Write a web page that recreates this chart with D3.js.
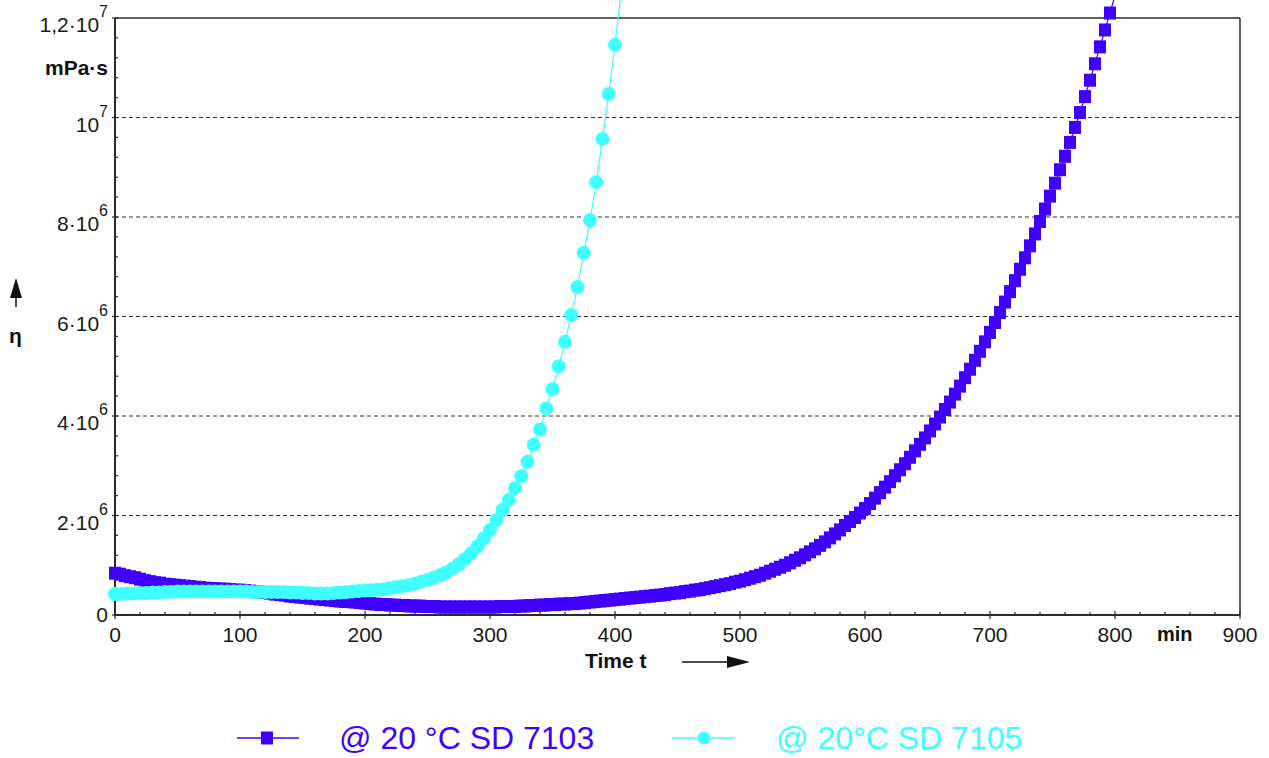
<!DOCTYPE html>
<html>
<head>
<meta charset="utf-8">
<script src="https://cdn.jsdelivr.net/npm/d3@7"></script>
<style>
  body { margin: 0; background: #fff; }
  text { font-family: Arial, "Liberation Sans", sans-serif; }
</style>
</head>
<body>
<div id="chart"></div>
<script>
// viscosity (in 10^6 mPa·s) against time (min)

// SD 7103 at 20 °C, one reading every 4 min (last one runs off the top)
var blueTimes = d3.range(0, 801, 4);
var blueVals = [
  0.84,0.82,0.79,0.77,0.75,0.72,0.69,0.67,0.65,0.64,
  0.62,0.61,0.60,0.59,0.58,0.57,0.56,0.55,0.54,0.53,
  0.53,0.52,0.52,0.51,0.50,0.50,0.49,0.48,0.47,0.46,
  0.45,0.44,0.42,0.41,0.40,0.38,0.37,0.36,0.35,0.34,
  0.33,0.32,0.31,0.30,0.29,0.28,0.27,0.27,0.26,0.25,
  0.24,0.23,0.22,0.21,0.21,0.20,0.20,0.19,0.19,0.18,
  0.18,0.18,0.17,0.17,0.17,0.16,0.16,0.16,0.16,0.16,
  0.16,0.16,0.16,0.16,0.16,0.16,0.16,0.17,0.17,0.17,
  0.17,0.18,0.18,0.19,0.19,0.20,0.20,0.21,0.21,0.22,
  0.22,0.23,0.23,0.24,0.25,0.26,0.27,0.28,0.29,0.30,
  0.31,0.32,0.33,0.34,0.35,0.36,0.37,0.38,0.39,0.40,
  0.41,0.43,0.44,0.45,0.47,0.48,0.50,0.51,0.53,0.55,
  0.57,0.59,0.61,0.63,0.66,0.68,0.71,0.74,0.77,0.80,
  0.84,0.88,0.92,0.96,1.00,1.05,1.10,1.15,1.21,1.27,
  1.33,1.40,1.47,1.55,1.63,1.71,1.80,1.88,1.96,2.05,
  2.14,2.24,2.35,2.46,2.57,2.68,2.80,2.92,3.04,3.17,
  3.30,3.43,3.56,3.70,3.84,3.98,4.13,4.28,4.44,4.60,
  4.77,4.94,5.12,5.30,5.49,5.68,5.88,6.08,6.29,6.50,
  6.72,6.95,7.18,7.42,7.66,7.91,8.16,8.42,8.68,8.95,
  9.22,9.50,9.80,10.10,10.42,10.75,11.08,11.42,11.76,12.10,
  12.45
];

// SD 7105 at 20 °C, one reading every 5 min
var cyanTimes = d3.range(0, 406, 5);
var cyanVals = [
  0.42,0.42,0.43,0.43,0.44,0.44,0.45,0.45,0.46,0.46,
  0.47,0.47,0.47,0.47,0.47,0.47,0.47,0.47,0.47,0.47,
  0.47,0.47,0.46,0.46,0.46,0.46,0.46,0.46,0.45,0.45,
  0.44,0.44,0.43,0.43,0.43,0.44,0.45,0.46,0.47,0.48,
  0.49,0.50,0.51,0.52,0.54,0.56,0.58,0.60,0.63,0.67,
  0.71,0.75,0.80,0.86,0.93,1.02,1.12,1.24,1.38,1.54,
  1.71,1.91,2.11,2.31,2.55,2.79,3.08,3.42,3.73,4.15,
  4.54,5.00,5.49,6.03,6.59,7.28,7.94,8.70,9.57,10.47,
  11.46,12.55
];

var seriesNames = ["@ 20 °C SD 7103", "@ 20°C SD 7105"];
var seriesColors = ["#4000ff", "#40ffff"];

var xMajor = d3.range(0, 901, 100);
var yMajor = [0, 2, 4, 6, 8, 10, 12];
var yTickBase = ["0", "2·10", "4·10", "6·10", "8·10", "10", "1,2·10"];
var yTickExp = ["", "6", "6", "6", "6", "7", "7"];

var width = 1269, height = 758;
var margin = {top: 18, right: 29, bottom: 143, left: 115};

var svg = d3.select("#chart")
  .append("svg")
    .attr("width", width)
    .attr("height", height);

var x = d3.scaleLinear()
  .domain([0, 900])
  .range([margin.left, width - margin.right]);

var y = d3.scaleLinear()
  .domain([0, 12])
  .range([height - margin.bottom, margin.top]);

var x0 = x(0), x1 = x(900), yb = y(0), yt = y(12);
var axisColor = "#2b2b2b";

// dashed grid
svg.selectAll(".grid")
  .data([2, 4, 6, 8, 10])
  .enter().append("line")
    .attr("x1", x0).attr("x2", x1)
    .attr("y1", function(d) { return y(d); })
    .attr("y2", function(d) { return y(d); })
    .attr("stroke", "#333")
    .attr("stroke-width", 1)
    .attr("stroke-dasharray", "4,3");

// frame: top and right
svg.append("line").attr("x1", x0).attr("x2", x1).attr("y1", yt).attr("y2", yt)
  .attr("stroke", axisColor).attr("stroke-width", 1.5);
svg.append("line").attr("x1", x1).attr("x2", x1).attr("y1", yt).attr("y2", yb)
  .attr("stroke", axisColor).attr("stroke-width", 1.5);

// axes
svg.append("line").attr("x1", x0).attr("x2", x1).attr("y1", yb).attr("y2", yb)
  .attr("stroke", axisColor).attr("stroke-width", 2);
svg.append("line").attr("x1", x0).attr("x2", x0).attr("y1", yt).attr("y2", yb)
  .attr("stroke", axisColor).attr("stroke-width", 2);

// x ticks
var xMinor = d3.range(0, 901, 20).filter(function(d) { return d % 100 !== 0; });
svg.selectAll(".xminor")
  .data(xMinor)
  .enter().append("line")
    .attr("x1", function(d) { return x(d); })
    .attr("x2", function(d) { return x(d); })
    .attr("y1", yb - 3).attr("y2", yb)
    .attr("stroke", axisColor).attr("stroke-width", 1.2);
svg.selectAll(".xmajor")
  .data(xMajor)
  .enter().append("line")
    .attr("x1", function(d) { return x(d); })
    .attr("x2", function(d) { return x(d); })
    .attr("y1", yb - 4).attr("y2", yb + 4)
    .attr("stroke", axisColor).attr("stroke-width", 1.2);
svg.selectAll(".xlabel")
  .data(xMajor)
  .enter().append("text")
    .attr("x", function(d) { return x(d); })
    .attr("y", 642)
    .attr("text-anchor", "middle")
    .attr("font-size", 21)
    .attr("fill", "#1a1a1a")
    .text(function(d) { return d; });

// y ticks
var yMinor = d3.range(0, 12.01, 0.4).filter(function(d) { return Math.abs(d / 2 - Math.round(d / 2)) > 0.01; });
svg.selectAll(".yminor")
  .data(yMinor)
  .enter().append("line")
    .attr("x1", x0).attr("x2", x0 + 3)
    .attr("y1", function(d) { return y(d); })
    .attr("y2", function(d) { return y(d); })
    .attr("stroke", axisColor).attr("stroke-width", 1.2);
svg.selectAll(".ymajor")
  .data(yMajor)
  .enter().append("line")
    .attr("x1", x0 - 3).attr("x2", x0 + 3)
    .attr("y1", function(d) { return y(d); })
    .attr("y2", function(d) { return y(d); })
    .attr("stroke", axisColor).attr("stroke-width", 1.2);

var ylab = svg.selectAll(".ylabel")
  .data(yMajor)
  .enter().append("text")
    .attr("x", 108)
    .attr("y", function(d, i) { return y(d) + (yTickExp[i] ? 14 : 7); })
    .attr("text-anchor", "end")
    .attr("font-size", 21)
    .attr("fill", "#1a1a1a");
ylab.append("tspan").text(function(d, i) { return yTickBase[i]; });
ylab.append("tspan")
  .attr("dy", -15)
  .attr("font-size", 16)
  .text(function(d, i) { return yTickExp[i]; });

// axis titles
svg.append("text").attr("x", 108).attr("y", 75).attr("text-anchor", "end")
  .attr("font-size", 21).attr("font-weight", "bold").attr("fill", "#111").text("mPa·s");
svg.append("text").attr("x", 9).attr("y", 343)
  .attr("font-size", 21).attr("font-weight", "bold").attr("fill", "#111").text("η");
svg.append("line").attr("x1", 16).attr("x2", 16).attr("y1", 307).attr("y2", 294)
  .attr("stroke", "#111").attr("stroke-width", 1.5);
svg.append("path").attr("d", "M16,278 L22,298 L10,298 Z").attr("fill", "#111");

svg.append("text").attr("x", 585).attr("y", 668)
  .attr("font-size", 21).attr("font-weight", "bold").attr("fill", "#111").text("Time t");
svg.append("line").attr("x1", 682).attr("x2", 732).attr("y1", 662).attr("y2", 662)
  .attr("stroke", "#111").attr("stroke-width", 1.5);
svg.append("path").attr("d", "M750,662 L727,656 L727,668 Z").attr("fill", "#111");

svg.append("text").attr("x", 1157).attr("y", 641)
  .attr("font-size", 20).attr("font-weight", "bold").attr("fill", "#111").text("min");

// series
var blueData = blueTimes.map(function(t, i) { return {t: t, v: blueVals[i]}; });
var cyanData = cyanTimes.map(function(t, i) { return {t: t, v: cyanVals[i]}; });

var line = d3.line()
  .x(function(d) { return x(d.t); })
  .y(function(d) { return y(d.v); });

function shown(d) { return d.v <= 12.2; }

svg.append("path")
  .datum(blueData)
  .attr("d", line)
  .attr("fill", "none")
  .attr("stroke", seriesColors[0])
  .attr("stroke-width", 1.2);
svg.selectAll(".sq")
  .data(blueData.filter(shown))
  .enter().append("rect")
    .attr("x", function(d) { return x(d.t) - 6; })
    .attr("y", function(d) { return y(d.v) - 6.5; })
    .attr("width", 12)
    .attr("height", 13)
    .attr("fill", seriesColors[0]);

svg.append("path")
  .datum(cyanData)
  .attr("d", line)
  .attr("fill", "none")
  .attr("stroke", seriesColors[1])
  .attr("stroke-width", 1.2);
svg.selectAll(".dot")
  .data(cyanData.filter(shown))
  .enter().append("circle")
    .attr("cx", function(d) { return x(d.t); })
    .attr("cy", function(d) { return y(d.v); })
    .attr("r", 7)
    .attr("fill", seriesColors[1]);

// legend
var legendX = [237, 672];
var lg = svg.selectAll(".legend")
  .data(seriesNames)
  .enter().append("g")
    .attr("transform", function(d, i) { return "translate(" + legendX[i] + ",738)"; });
lg.append("line")
  .attr("x1", 0).attr("x2", 62)
  .attr("stroke", function(d, i) { return seriesColors[i]; })
  .attr("stroke-width", 1.5);
lg.filter(function(d, i) { return i === 0; }).append("rect")
  .attr("x", 24).attr("y", -6.5).attr("width", 12).attr("height", 13)
  .attr("fill", seriesColors[0]);
lg.filter(function(d, i) { return i === 1; }).append("circle")
  .attr("cx", 32).attr("cy", 0).attr("r", 6.5)
  .attr("fill", seriesColors[1]);
lg.append("text")
  .attr("x", function(d, i) { return i === 0 ? 102 : 104; })
  .attr("y", 11)
  .attr("font-size", 32)
  .attr("fill", function(d, i) { return seriesColors[i]; })
  .text(function(d) { return d; });
</script>
</body>
</html>
